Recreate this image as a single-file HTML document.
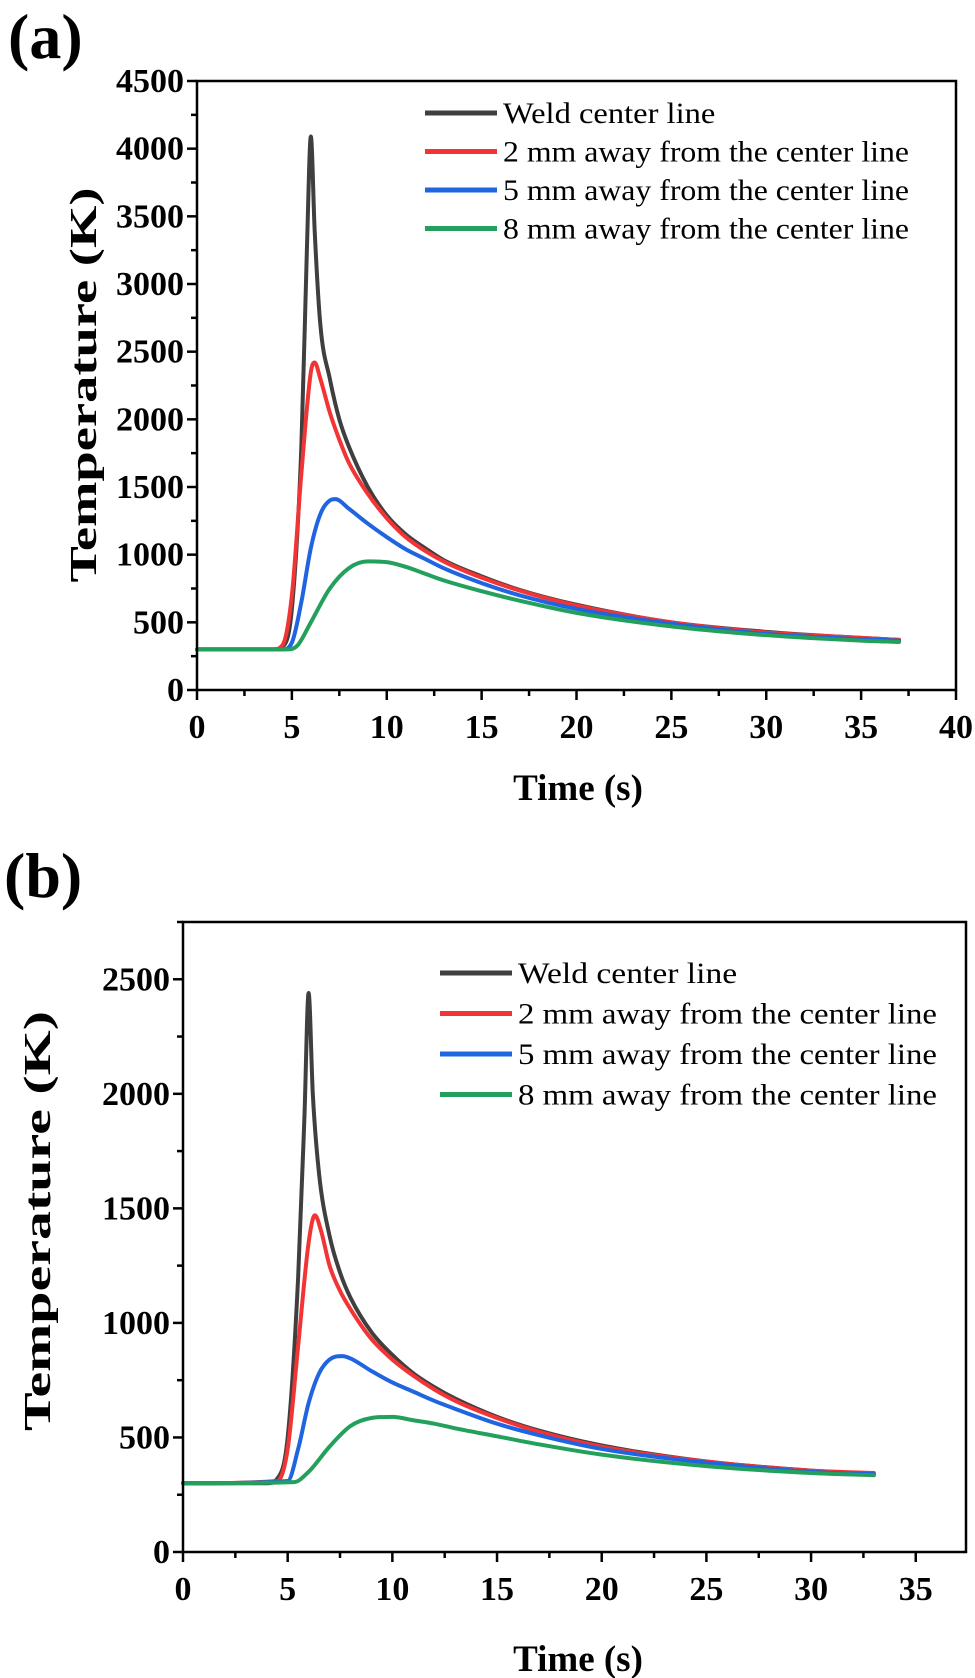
<!DOCTYPE html>
<html><head><meta charset="utf-8"><style>
html,body{margin:0;padding:0;background:#fff;}
svg{display:block;font-family:"Liberation Serif",serif;}
</style></head><body>
<svg id="fig" width="975" height="1678" viewBox="0 0 975 1678">
<text x="8" y="58" font-size="64" font-weight="bold">(a)</text>
<text x="4" y="897" font-size="64" font-weight="bold">(b)</text>
<g id="pa"></g>
<g id="pb"></g>
</svg>
<script>
// Panel (a) data
const aBlackT=[0,4,4.5,5,5.5,5.8,6.0,6.2,6.5,7,7.5,8,9,10,11,12,13,15,17,20,25,30,35,37];
const aBlackV=[300,300,320,600,1800,3300,4090,3400,2700,2300,2000,1800,1500,1290,1150,1050,960,840,740,630,500,430,385,370];
const aRedT=[0,4,4.5,5,5.5,6,6.2,6.5,7,7.5,8,9,10,11,12,13,15,17,20,25,30,35,37];
const aRedV=[300,300,330,700,1600,2350,2420,2300,2050,1850,1680,1450,1270,1130,1030,950,830,735,625,500,425,385,370];
const aBlueT=[0,4.5,5,5.5,6,6.5,7,7.3,8,9,10,11,12,13,15,17,20,25,30,35,37];
const aBlueV=[300,300,350,650,1050,1300,1400,1410,1340,1230,1130,1040,970,900,790,700,600,490,415,375,365];
const aGreenT=[0,4.8,5.3,6,7,8,9,10,11,12,13,15,17,20,25,30,35,37];
const aGreenV=[300,300,330,500,750,900,950,945,910,860,810,730,660,570,470,405,365,355];
const aXTicks=[0,5,10,15,20,25,30,35,40];
const aYTicks=[0,500,1000,1500,2000,2500,3000,3500,4000,4500];
// Panel (b) data
const bBlackT=[0,4,4.5,5,5.5,5.8,6,6.2,6.5,7,7.5,8,9,10,11,12,13,15,17,20,25,30,33];
const bBlackV=[300,300,320,500,1200,1900,2440,2000,1650,1380,1220,1110,960,860,780,720,670,590,530,465,395,355,340];
const bRedT=[0,4.5,5,5.5,6,6.3,6.6,7,7.5,8,9,10,11,12,13,15,17,20,25,30,33];
const bRedV=[300,310,450,900,1350,1470,1400,1250,1140,1060,930,840,770,710,660,585,525,460,395,355,345];
const bBlueT=[0,5,5.5,6,6.5,7,7.6,8,9,10,11,12,13,15,17,20,25,30,33];
const bBlueV=[300,310,450,650,780,840,855,845,790,740,700,660,625,560,510,450,390,350,340];
const bGreenT=[0,5.3,6,7,8,9,10,11,12,13,15,17,20,25,30,33];
const bGreenV=[300,305,350,460,550,585,590,575,560,540,505,470,425,375,345,335];
const bXTicks=[0,5,10,15,20,25,30,35];
const bYTicks=[0,500,1000,1500,2000,2500];
const legendLabels=["Weld center line","2 mm away from the center line","5 mm away from the center line","8 mm away from the center line"];
const colors=["#3f3f3f","#f23434","#1f64e0","#23a05c"];

const NS="http://www.w3.org/2000/svg";
function mk(tag,attrs,parent){const e=document.createElementNS(NS,tag);for(const k in attrs)e.setAttribute(k,attrs[k]);parent.appendChild(e);return e;}

// monotone cubic (Fritsch-Carlson) path through data points
function monoPath(xs,ys){
  const n=xs.length,d=[],m=new Array(n);
  for(let i=0;i<n-1;i++)d.push((ys[i+1]-ys[i])/(xs[i+1]-xs[i]));
  m[0]=d[0];m[n-1]=d[n-2];
  for(let i=1;i<n-1;i++){m[i]=(d[i-1]*d[i]<=0)?0:(d[i-1]+d[i])/2;}
  for(let i=0;i<n-1;i++){
    if(d[i]===0){m[i]=0;m[i+1]=0;continue;}
    const a=m[i]/d[i],b=m[i+1]/d[i],s=a*a+b*b;
    if(s>9){const t=3/Math.sqrt(s);m[i]=t*a*d[i];m[i+1]=t*b*d[i];}
  }
  let p="M"+xs[0].toFixed(2)+","+ys[0].toFixed(2);
  for(let i=0;i<n-1;i++){
    const h=(xs[i+1]-xs[i])/3;
    p+="C"+(xs[i]+h).toFixed(2)+","+(ys[i]+m[i]*h).toFixed(2)+" "+(xs[i+1]-h).toFixed(2)+","+(ys[i+1]-m[i+1]*h).toFixed(2)+" "+xs[i+1].toFixed(2)+","+ys[i+1].toFixed(2);
  }
  return p;
}

function panel(g,cfg){
  const sx=v=>cfg.x0+(v-cfg.xmin)/(cfg.xmax-cfg.xmin)*(cfg.x1-cfg.x0);
  const sy=v=>cfg.y0-(v-cfg.ymin)/(cfg.ymax-cfg.ymin)*(cfg.y0-cfg.y1);
  cfg.series.forEach((s,i)=>{
    const d=monoPath(s.t.map(sx),s.v.map(sy));
    const p=mk("path",{d:d,fill:"none",stroke:colors[i],"stroke-width":4,"stroke-linejoin":"round","stroke-linecap":"round"},g);
    
    
  });
  const fr=mk("rect",{x:cfg.x0,y:cfg.y1,width:cfg.x1-cfg.x0,height:cfg.y0-cfg.y1,fill:"none",stroke:"#000","stroke-width":2.5},g);
  
  
  for(let v=cfg.xmin;v<=cfg.xmax+1e-6;v+=2.5){
    const major=Math.abs(v/5-Math.round(v/5))<1e-6;
    const tk=mk("line",{x1:sx(v),x2:sx(v),y1:cfg.y0,y2:cfg.y0+(major?10:6),stroke:"#000","stroke-width":2.5},g);
    
    
  }
  cfg.xticks.forEach(v=>{
    const t=mk("text",{x:sx(v),y:cfg.y0+48,"font-size":34,"font-weight":"bold","text-anchor":"middle"},g);
    t.textContent=v;
    
    
  });
  for(let v=cfg.ymin;v<=cfg.ymax+1e-6;v+=250){
    const major=v%500===0;
    const tk=mk("line",{x1:cfg.x0,x2:cfg.x0-(major?10:6),y1:sy(v),y2:sy(v),stroke:"#000","stroke-width":2.5},g);
    
    
  }
  cfg.yticks.forEach(v=>{
    const t=mk("text",{x:cfg.x0-13,y:sy(v)+11,"font-size":34,"font-weight":"bold","text-anchor":"end"},g);
    t.textContent=v;
    
    
  });
  const xt=mk("text",{x:cfg.xtx,y:cfg.xty,"font-size":37,"font-weight":"bold","text-anchor":"middle"},g);
  xt.textContent="Time (s)";
  
  
  const yt=mk("text",{x:0,y:0,"font-size":38,"font-weight":"bold","text-anchor":"middle",textLength:cfg.ytl,lengthAdjust:"spacingAndGlyphs",transform:`translate(${cfg.ytx},${cfg.yty}) rotate(-90)`},g);
  yt.textContent="Temperature (K)";
  
  
  legendLabels.forEach((lab,i)=>{
    const y=cfg.ly0+i*cfg.ldy;
    const ln=mk("line",{x1:cfg.lx1,x2:cfg.lx2,y1:y,y2:y,stroke:colors[i],"stroke-width":5},g);
    
    
    const attrs={x:cfg.lx2+6,y:y+10,"font-size":30,textLength:(i===0?cfg.lw*0.523:cfg.lw),lengthAdjust:"spacingAndGlyphs"};
    const t=mk("text",attrs,g);
    t.textContent=lab;
    
    
  });
}

panel(document.getElementById("pa"),{
  x0:197,x1:956,y0:690,y1:81,xmin:0,xmax:40,ymin:0,ymax:4500,
  xticks:aXTicks,yticks:aYTicks,
  series:[{t:aBlackT,v:aBlackV},{t:aRedT,v:aRedV},{t:aBlueT,v:aBlueV},{t:aGreenT,v:aGreenV}],
  xtx:578,xty:800,ytx:96,yty:385,ytl:395,
  lx1:425,lx2:497,ly0:113,ldy:38.5,lw:406
});
panel(document.getElementById("pb"),{
  x0:183,x1:966,y0:1552,y1:922,xmin:0,xmax:37.4,ymin:0,ymax:2750,
  xticks:bXTicks,yticks:bYTicks,
  series:[{t:bBlackT,v:bBlackV},{t:bRedT,v:bRedV},{t:bBlueT,v:bBlueV},{t:bGreenT,v:bGreenV}],
  xtx:578,xty:1671,ytx:50,yty:1221,ytl:420,
  lx1:440,lx2:512,ly0:973,ldy:40.5,lw:419
});
</script>
</body></html>
